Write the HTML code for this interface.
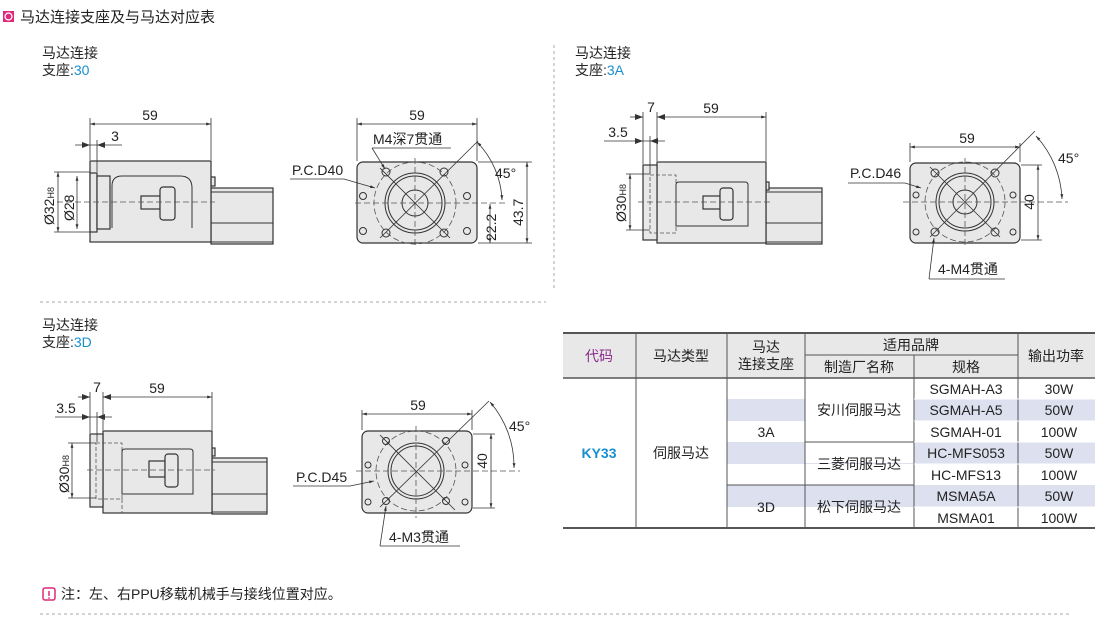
<!DOCTYPE html>
<html><head><meta charset="utf-8"><style>
body{margin:0;background:#fff;}
svg{display:block;font-family:"Liberation Sans","Noto Sans CJK SC",sans-serif;}
.p{fill:#e8e8e8;stroke:#333;stroke-width:1.2}
.l{stroke:#333;stroke-width:1;fill:none}
.d{stroke:#333;stroke-width:0.8;fill:none}
.c{stroke:#555;stroke-width:0.8;fill:none;stroke-dasharray:6 3}
.a{stroke:#333;stroke-width:0.8;fill:none;marker-start:url(#ar);marker-end:url(#ar)}
.t{font-size:14px;fill:#222}
.tb{font-size:14px;fill:#222;text-anchor:middle}
</style></head><body>
<svg width="1110" height="632" viewBox="0 0 1110 632">
<defs>
<marker id="ar" viewBox="0 0 10 10" refX="10" refY="5" markerWidth="8" markerHeight="6" orient="auto-start-reverse"><path d="M0,2 L10,5 L0,8 z" fill="#333"/></marker>
<marker id="ae" viewBox="0 0 10 10" refX="10" refY="5" markerWidth="8" markerHeight="6" orient="auto"><path d="M0,2 L10,5 L0,8 z" fill="#333"/></marker>
</defs>
<!-- header -->
<rect x="3" y="11" width="11" height="11" fill="#e0287a"/><circle cx="8.5" cy="16.5" r="3.5" fill="none" stroke="#fff" stroke-width="1.3"/>
<text x="20" y="22" style="font-size:15px;fill:#222">马达连接支座及与马达对应表</text>
<line x1="554" y1="45" x2="554" y2="290" stroke="#aaa" stroke-dasharray="3 3"/>
<line x1="40" y1="302" x2="546" y2="302" stroke="#aaa" stroke-dasharray="3 3"/>
<line x1="40" y1="614" x2="1072" y2="614" stroke="#aaa" stroke-dasharray="3 3"/>

<text x="42" y="58" class="t">马达连接</text><text x="42" y="75" class="t">支座:<tspan fill="#1a8fd0">30</tspan></text>
<text x="575" y="58" class="t">马达连接</text><text x="575" y="75" class="t">支座:<tspan fill="#1a8fd0">3A</tspan></text>
<text x="42" y="330" class="t">马达连接</text><text x="42" y="347" class="t">支座:<tspan fill="#1a8fd0">3D</tspan></text>

<!-- ===== Diagram 1 side ===== -->
<rect class="p" x="211" y="188" width="62" height="56" stroke="none"/>
<line class="l" x1="211" y1="188" x2="273" y2="188"/><line class="l" x1="211" y1="192" x2="273" y2="192"/>
<line class="l" x1="211" y1="223" x2="273" y2="223"/><line class="l" x1="211" y1="242" x2="273" y2="242"/><line class="l" x1="211" y1="244" x2="273" y2="244"/>
<rect class="p" x="211" y="177" width="4" height="9"/>
<rect class="p" x="90" y="161" width="121" height="81"/>
<rect class="p" x="90" y="173" width="7" height="59"/>
<rect class="p" x="97" y="176" width="13" height="53"/>
<path class="l" d="M112,228 V186 Q112,176 122,176 H180 Q192,176 192,188 V228" />
<rect class="p" x="141" y="196" width="19" height="13"/>
<rect class="p" x="160" y="187" width="15" height="33" rx="3"/>
<line class="c" x1="57" y1="202" x2="215" y2="202"/>
<line class="d" x1="90" y1="118" x2="90" y2="160"/><line class="d" x1="211" y1="118" x2="211" y2="160"/><line class="d" x1="97" y1="140" x2="97" y2="172"/>
<line class="a" x1="90" y1="124" x2="211" y2="124"/><text x="150" y="120" class="tb">59</text>
<line class="d" x1="75" y1="145" x2="122" y2="145"/>
<path d="M90,145 l-8,-3 v6z M97,145 l8,-3 v6z" fill="#333"/><text x="115" y="141" class="tb">3</text>
<line class="d" x1="54" y1="172" x2="90" y2="172"/><line class="d" x1="54" y1="232" x2="90" y2="232"/>
<line class="a" x1="58" y1="172" x2="58" y2="232"/>
<text transform="translate(54,225) rotate(-90)" style="font-size:14px;fill:#222">Ø32<tspan style="font-size:9px">H8</tspan></text>
<line class="a" x1="77" y1="176" x2="77" y2="229"/>
<text transform="translate(74,221) rotate(-90)" style="font-size:14px;fill:#222">Ø28</text>

<!-- ===== Diagram 1 front ===== -->
<rect class="p" x="357" y="162" width="120" height="81" rx="6"/>
<circle class="c" cx="415" cy="203" r="41"/>
<circle class="l" cx="415" cy="203" r="30"/><circle class="l" cx="415" cy="203" r="27"/><circle class="l" cx="415" cy="203" r="13"/>
<line class="c" x1="415" y1="158" x2="415" y2="248"/><line class="c" x1="355" y1="203" x2="505" y2="203"/>
<line class="d" x1="380" y1="238" x2="478" y2="141"/><line class="d" x1="380" y1="168" x2="450" y2="238"/>
<g class="l"><circle cx="386" cy="172" r="4"/><circle cx="444" cy="172" r="4"/><circle cx="386" cy="233" r="4"/><circle cx="444" cy="233" r="4"/>
<circle cx="363" cy="196" r="3.5"/><circle cx="467" cy="196" r="3.5"/><circle cx="363" cy="231" r="3.5"/><circle cx="467" cy="231" r="3.5"/></g>
<line class="d" x1="357" y1="118" x2="357" y2="161"/><line class="d" x1="477" y1="118" x2="477" y2="161"/>
<line class="a" x1="357" y1="124" x2="477" y2="124"/><text x="417" y="120" class="tb">59</text>
<text x="373" y="144" class="t">M4深7贯通</text><line class="d" x1="372" y1="148" x2="451" y2="148"/>
<line class="d" x1="372" y1="148" x2="385" y2="169" marker-end="url(#ae)"/>
<text x="292" y="175" class="t">P.C.D40</text><line class="d" x1="290" y1="179" x2="344" y2="179"/>
<line class="d" x1="344" y1="179" x2="375" y2="188" marker-end="url(#ae)"/>
<path class="a" d="M477,142 A88,88 0 0 1 502,200"/><text x="495" y="178" class="t">45°</text>
<line class="d" x1="478" y1="162" x2="532" y2="162"/><line class="d" x1="478" y1="243" x2="532" y2="243"/>
<line class="a" x1="490" y1="204" x2="490" y2="243"/><text transform="translate(496,241) rotate(-90)" style="font-size:14px;fill:#222">22.2</text>
<line class="a" x1="527" y1="162" x2="527" y2="243"/><text transform="translate(523,226) rotate(-90)" style="font-size:14px;fill:#222">43.7</text>

<!-- ===== Diagram 2 side ===== -->
<rect class="p" x="766" y="188" width="56" height="56" stroke="none"/>
<line class="l" x1="766" y1="188" x2="822" y2="188"/><line class="l" x1="766" y1="192" x2="822" y2="192"/>
<line class="l" x1="766" y1="223" x2="822" y2="223"/><line class="l" x1="766" y1="242" x2="822" y2="242"/><line class="l" x1="766" y1="244" x2="822" y2="244"/>
<rect class="p" x="766" y="182" width="3" height="8"/>
<rect class="p" x="657" y="162" width="109" height="81"/>
<rect class="p" x="643" y="165" width="14" height="75"/>
<rect x="650" y="175" width="26" height="58" fill="none" stroke="#555" stroke-width="0.8" stroke-dasharray="4 2"/>
<path class="l" d="M676,226 V185 Q676,182 679,182 H745 Q748,182 748,185 V226 Z"/>
<rect class="p" x="703" y="196" width="17" height="13"/>
<rect class="p" x="720" y="188" width="13" height="32" rx="3"/>
<line class="c" x1="638" y1="202" x2="772" y2="202"/>
<line class="d" x1="643" y1="112" x2="643" y2="164"/><line class="d" x1="657" y1="112" x2="657" y2="161"/><line class="d" x1="650" y1="136" x2="650" y2="174"/><line class="d" x1="766" y1="112" x2="766" y2="161"/>
<line class="a" x1="657" y1="117" x2="766" y2="117"/><text x="711" y="113" class="tb">59</text>
<line class="d" x1="630" y1="117" x2="643" y2="117"/><path d="M643,117 l-8,-3 v6z M657,117 l8,-3 v6z" fill="#333"/><text x="651" y="112" class="tb">7</text>
<line class="d" x1="604" y1="141" x2="665" y2="141"/><path d="M643,141 l-8,-3 v6z M650,141 l8,-3 v6z" fill="#333"/><text x="618" y="137" class="tb">3.5</text>
<line class="d" x1="626" y1="174" x2="650" y2="174"/><line class="d" x1="626" y1="230" x2="650" y2="230"/>
<line class="a" x1="630" y1="174" x2="630" y2="230"/>
<text transform="translate(626,222) rotate(-90)" style="font-size:14px;fill:#222">Ø30<tspan style="font-size:9px">H8</tspan></text>

<!-- ===== Diagram 2 front ===== -->
<rect class="p" x="910" y="163" width="110" height="80" rx="6"/>
<circle class="c" cx="965" cy="202" r="40"/>
<circle class="l" cx="965" cy="202" r="29"/><circle class="l" cx="965" cy="202" r="26"/><circle class="l" cx="965" cy="202" r="12"/>
<line class="c" x1="965" y1="158" x2="965" y2="247"/><line class="c" x1="903" y1="202" x2="1068" y2="202"/>
<line class="d" x1="930" y1="237" x2="1035" y2="131"/><line class="d" x1="930" y1="167" x2="1000" y2="237"/>
<g class="l"><circle cx="935" cy="173" r="4"/><circle cx="995" cy="173" r="4"/><circle cx="935" cy="232" r="4"/><circle cx="995" cy="232" r="4"/>
<circle cx="916" cy="195" r="3"/><circle cx="1013" cy="195" r="3"/><circle cx="916" cy="232" r="3"/><circle cx="1013" cy="232" r="3"/></g>
<line class="d" x1="910" y1="143" x2="910" y2="162"/><line class="d" x1="1020" y1="143" x2="1020" y2="162"/>
<line class="a" x1="910" y1="147" x2="1020" y2="147"/><text x="967" y="143" class="tb">59</text>
<line class="d" x1="1021" y1="165" x2="1042" y2="165"/><line class="d" x1="1021" y1="240" x2="1042" y2="240"/>
<line class="a" x1="1038" y1="165" x2="1038" y2="240"/><text transform="translate(1034,202) rotate(-90)" style="font-size:14px;fill:#222" text-anchor="middle">40</text>
<path class="a" d="M1036,136 A98,98 0 0 1 1062,199"/><text x="1058" y="163" class="t">45°</text>
<text x="850" y="178" class="t">P.C.D46</text><line class="d" x1="848" y1="183" x2="905" y2="183"/>
<line class="d" x1="905" y1="183" x2="921" y2="188" marker-end="url(#ae)"/>
<text x="938" y="274" class="t">4-M4贯通</text><line class="d" x1="929" y1="279" x2="1005" y2="279"/>
<line class="d" x1="929" y1="279" x2="934" y2="238" marker-end="url(#ae)"/>

<!-- ===== Diagram 3 side ===== -->
<rect class="p" x="212" y="458" width="55" height="56" stroke="none"/>
<line class="l" x1="212" y1="458" x2="267" y2="458"/><line class="l" x1="212" y1="462" x2="267" y2="462"/>
<line class="l" x1="212" y1="494" x2="267" y2="494"/><line class="l" x1="212" y1="512" x2="267" y2="512"/><line class="l" x1="212" y1="514" x2="267" y2="514"/>
<rect class="p" x="212" y="448" width="3" height="8"/>
<rect class="p" x="103" y="431" width="109" height="82"/>
<rect class="p" x="90" y="434" width="13" height="73"/>
<rect x="96" y="443" width="26" height="56" fill="none" stroke="#555" stroke-width="0.8" stroke-dasharray="4 2"/>
<line x1="122" y1="499" x2="122" y2="513" stroke="#555" stroke-width="0.8" stroke-dasharray="4 2"/>
<path class="l" d="M122,494 V452 Q122,449 125,449 H190 Q193,449 193,452 V494 Z"/>
<rect class="p" x="149" y="461" width="16" height="16"/>
<rect class="p" x="165" y="454" width="13" height="33" rx="3"/>
<line class="c" x1="87" y1="470" x2="215" y2="470"/>
<line class="d" x1="90" y1="392" x2="90" y2="433"/><line class="d" x1="103" y1="392" x2="103" y2="430"/><line class="d" x1="97" y1="412" x2="97" y2="442"/><line class="d" x1="212" y1="392" x2="212" y2="430"/>
<line class="a" x1="103" y1="397" x2="212" y2="397"/><text x="157" y="393" class="tb">59</text>
<line class="d" x1="78" y1="397" x2="90" y2="397"/><path d="M90,397 l-8,-3 v6z M103,397 l8,-3 v6z" fill="#333"/><text x="97" y="392" class="tb">7</text>
<line class="d" x1="55" y1="417" x2="112" y2="417"/><path d="M90,417 l-8,-3 v6z M97,417 l8,-3 v6z" fill="#333"/><text x="66" y="413" class="tb">3.5</text>
<line class="d" x1="68" y1="443" x2="96" y2="443"/><line class="d" x1="68" y1="498" x2="96" y2="498"/>
<line class="a" x1="72" y1="443" x2="72" y2="498"/>
<text transform="translate(69,493) rotate(-90)" style="font-size:14px;fill:#222">Ø30<tspan style="font-size:9px">H8</tspan></text>

<!-- ===== Diagram 3 front ===== -->
<rect class="p" x="362" y="431" width="110" height="82" rx="6"/>
<circle class="c" cx="416" cy="471" r="40"/>
<circle class="l" cx="416" cy="471" r="28"/><circle class="l" cx="416" cy="471" r="25"/>
<line class="c" x1="416" y1="426" x2="416" y2="518"/><line class="c" x1="356" y1="471" x2="520" y2="471"/>
<line class="d" x1="380" y1="507" x2="489" y2="401"/><line class="d" x1="380" y1="435" x2="455" y2="510"/>
<g class="l"><circle cx="386" cy="441" r="3.5"/><circle cx="446" cy="441" r="3.5"/><circle cx="386" cy="501" r="3.5"/><circle cx="446" cy="501" r="3.5"/>
<circle cx="368" cy="465" r="3"/><circle cx="465" cy="465" r="3"/><circle cx="368" cy="502" r="3"/><circle cx="465" cy="502" r="3"/></g>
<line class="d" x1="362" y1="410" x2="362" y2="430"/><line class="d" x1="472" y1="410" x2="472" y2="430"/>
<line class="a" x1="362" y1="414" x2="472" y2="414"/><text x="418" y="410" class="tb">59</text>
<line class="d" x1="473" y1="434" x2="495" y2="434"/><line class="d" x1="473" y1="508" x2="495" y2="508"/>
<line class="a" x1="491" y1="434" x2="491" y2="508"/><text transform="translate(487,461) rotate(-90)" style="font-size:14px;fill:#222" text-anchor="middle">40</text>
<path class="a" d="M490,402 A98,98 0 0 1 514,468"/><text x="509" y="431" class="t">45°</text>
<text x="296" y="482" class="t">P.C.D45</text><line class="d" x1="293" y1="486" x2="350" y2="486"/>
<line class="d" x1="350" y1="486" x2="374" y2="481" marker-end="url(#ae)"/>
<text x="389" y="542" class="t">4-M3贯通</text><line class="d" x1="380" y1="546" x2="460" y2="546"/>
<line class="d" x1="380" y1="546" x2="386" y2="506" marker-end="url(#ae)"/>

<!-- ===== Table ===== -->
<rect x="563" y="333" width="532" height="45" fill="#e8e8e8"/>
<g fill="#dde0ef">
<rect x="727" y="399" width="78" height="22"/><rect x="914" y="399" width="181" height="22"/>
<rect x="727" y="442" width="187" height="22"/><rect x="914" y="442" width="181" height="22"/>
<rect x="727" y="485" width="368" height="22"/>
</g>
<rect x="805" y="421" width="109" height="42" fill="#fff"/>
<rect x="727" y="464" width="78" height="21" fill="#fff"/>
<rect x="805" y="464" width="109" height="21" fill="#fff"/>
<g stroke="#555" stroke-width="1" fill="none">
<line x1="563" y1="333" x2="1095" y2="333" stroke-width="2"/>
<line x1="563" y1="378" x2="1095" y2="378" stroke-width="1.5"/>
<line x1="563" y1="528" x2="1095" y2="528" stroke-width="2"/>
<line x1="636" y1="333" x2="636" y2="528"/><line x1="727" y1="333" x2="727" y2="528"/>
<line x1="805" y1="355" x2="805" y2="528"/><line x1="914" y1="355" x2="914" y2="528"/><line x1="1018" y1="333" x2="1018" y2="528"/>
<line x1="805" y1="355" x2="1018" y2="355"/><line x1="805" y1="333" x2="805" y2="355"/>
<line x1="727" y1="485" x2="914" y2="485"/><line x1="805" y1="442" x2="914" y2="442"/>
</g>
<g stroke="#fff" stroke-width="1"><line x1="914" y1="399" x2="1095" y2="399"/><line x1="914" y1="421" x2="1095" y2="421"/><line x1="914" y1="442" x2="1095" y2="442"/><line x1="914" y1="464" x2="1095" y2="464"/><line x1="914" y1="507" x2="1095" y2="507"/></g>
<g style="font-size:14px;fill:#222" text-anchor="middle">
<text x="599" y="361" fill="#8a2a8a">代码</text>
<text x="681" y="361">马达类型</text>
<text x="766" y="352">马达</text><text x="766" y="369">连接支座</text>
<text x="911" y="350">适用品牌</text>
<text x="859" y="372">制造厂名称</text><text x="966" y="372">规格</text>
<text x="1056" y="361">输出功率</text>
<text x="599" y="458" fill="#1a8fd0" style="font-weight:bold">KY33</text>
<text x="681" y="458">伺服马达</text>
<text x="766" y="437">3A</text><text x="766" y="512">3D</text>
<text x="859" y="415">安川伺服马达</text><text x="859" y="469">三菱伺服马达</text><text x="859" y="512">松下伺服马达</text>
<text x="966" y="394">SGMAH-A3</text><text x="966" y="415">SGMAH-A5</text><text x="966" y="437">SGMAH-01</text>
<text x="966" y="458">HC-MFS053</text><text x="966" y="480">HC-MFS13</text><text x="966" y="501">MSMA5A</text><text x="966" y="523">MSMA01</text>
<text x="1059" y="394">30W</text><text x="1059" y="415">50W</text><text x="1059" y="437">100W</text>
<text x="1059" y="458">50W</text><text x="1059" y="480">100W</text><text x="1059" y="501">50W</text><text x="1059" y="523">100W</text>
</g>

<!-- note -->
<rect x="43" y="588" width="12" height="12" rx="2" fill="none" stroke="#e0287a" stroke-width="1.5"/>
<line x1="49" y1="591" x2="49" y2="596" stroke="#e0287a" stroke-width="1.5"/><circle cx="49" cy="598" r="0.9" fill="#e0287a"/>
<text x="61" y="599" class="t">注：左、右PPU移载机械手与接线位置对应。</text>
</svg>
</body></html>
